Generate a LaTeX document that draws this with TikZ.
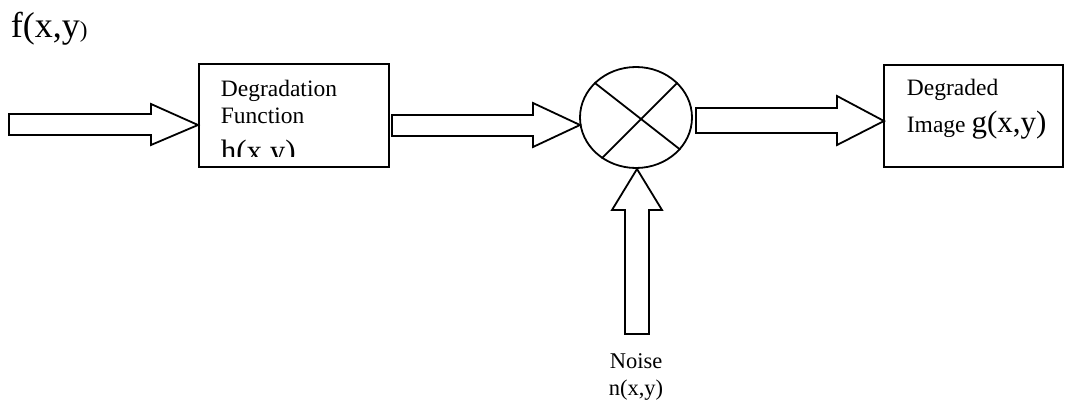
\documentclass[tikz,border=0pt]{standalone}
\usepackage{fontspec}
\setmainfont{Liberation Serif}
\usetikzlibrary{shapes.geometric}
\begin{document}
\begin{tikzpicture}[x=1pt,y=-1pt,
  line width=1.8pt,
  blockbox/.style={draw,rectangle,inner sep=0pt},
  lbl/.style={inner sep=0pt,anchor=base west,font=\fontsize{23.5}{26}\selectfont},
  big/.style={font=\fontsize{31}{34}\selectfont},
  blockarrow/.style={draw,line join=miter,fill=white}]
\useasboundingbox (0,0) rectangle (1065,401);
% boxes and mixer
\node[blockbox,minimum width=190pt,minimum height=103pt] (deg) at (294,115.5) {};
\node[blockbox,minimum width=179pt,minimum height=102pt] (out) at (973.5,116) {};
\node[draw,ellipse,inner sep=0pt,minimum width=112pt,minimum height=101pt] (mix) at (636,117.5) {};
\draw (mix.140) -- (mix.-36);
\draw (mix.40) -- (mix.-130);
% labels
\node[inner sep=0pt,anchor=base west,font=\fontsize{36}{38}\selectfont] (f) at (10,38) {f(x,y\fontsize{23}{24}\selectfont)};
\node[lbl] (dl1) at (220,97) {Degradation};
\node[lbl] (dl2) at (220,124) {Function};
\begin{scope}
\clip (200,64) rectangle (388,156);
\node[lbl,big] (dl3) at (220,161) {h(x,y)};
\end{scope}
\node[lbl] (ol1) at (906,96) {Degraded};
\node[lbl] (ol2) at (906,132) {Image {\fontsize{31}{34}\selectfont g(x,y)}};
\node[inner sep=0pt,anchor=base,font=\fontsize{22.5}{25}\selectfont] (nl1) at (636,368) {Noise};
\node[inner sep=0pt,anchor=base,font=\fontsize{22.5}{25}\selectfont] (nl2) at (636,395) {n(x,y)};
% block arrows
\coordinate (a1) at (198,125);
\draw[blockarrow] (9,114) -- (151,114) -- (151,104) -- (a1) -- (151,145) -- (151,135) -- (9,135) -- cycle;
\coordinate (a2) at (580,125);
\draw[blockarrow] (392,115) -- (533,115) -- (533,103) -- (a2) -- (533,147) -- (533,136) -- (392,136) -- cycle;
\coordinate (a3) at (884,121);
\draw[blockarrow] (696,108) -- (837,108) -- (837,96) -- (a3) -- (837,145) -- (837,133) -- (696,133) -- cycle;
\coordinate (a4) at (637,169);
\draw[blockarrow] (625,334) -- (625,210) -- (612,210) -- (a4) -- (662,210) -- (649,210) -- (649,334) -- cycle;
\end{tikzpicture}
\end{document}
